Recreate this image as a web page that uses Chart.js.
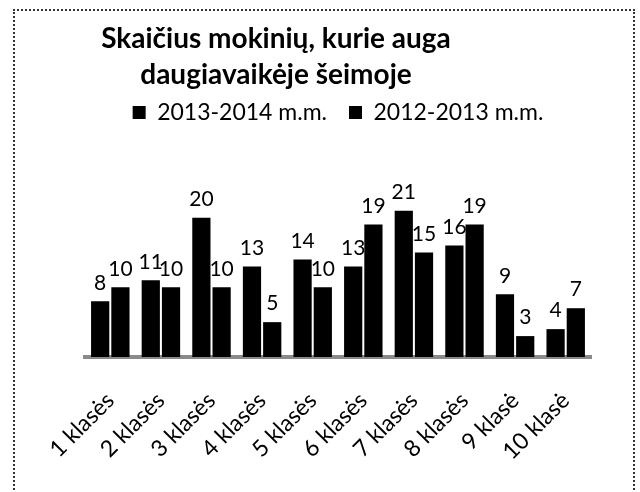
<!DOCTYPE html>
<html>
<head>
<meta charset="utf-8">
<script src="https://cdn.jsdelivr.net/npm/chart.js@4.4.1/dist/chart.umd.min.js"></script>
<style>
  html, body { margin: 0; padding: 0; background: #fff; }
  #wrap { position: relative; width: 640px; height: 492px; overflow: hidden; }
  #frame { position: absolute; left: 13px; top: 9px; width: 622px; height: 500px;
           border: 2px dotted #333; box-sizing: border-box; }
  #title { position: absolute; left: 0; top: 19px; width: 552px; text-align: center;
           font-family: Lato, "Liberation Sans", sans-serif; font-weight: bold; font-size: 28px;
           line-height: 36px; color: #000; }
  canvas { position: absolute; left: 0; top: 0; }
</style>
</head>
<body>
<div id="wrap">
  <div id="frame"></div>
  <canvas id="c" width="640" height="492"></canvas>
  <div id="title">Skaičius mokinių, kurie auga<br>daugiavaikėje šeimoje</div>
</div>
<script>
const categories = ["1 klasės", "2 klasės", "3 klasės", "4 klasės", "5 klasės",
                    "6 klasės", "7 klasės", "8 klasės", "9 klasė", "10 klasė"];
const seriesNames = ["2013-2014 m.m.", "2012-2013 m.m."];
const values2013_2014 = [8, 11, 20, 13, 14, 13, 21, 16, 9, 4];
const values2012_2013 = [10, 10, 10, 5, 10, 19, 15, 19, 3, 7];

const FONT = 'Lato, "Liberation Sans", sans-serif';

const dataLabels = {
  id: 'dataLabels',
  afterDatasetsDraw(chart) {
    const ctx = chart.ctx;
    ctx.save();
    ctx.font = '21px ' + FONT;
    ctx.fillStyle = '#000';
    ctx.textAlign = 'center';
    ctx.textBaseline = 'bottom';
    chart.data.datasets.forEach((ds, i) => {
      const meta = chart.getDatasetMeta(i);
      meta.data.forEach((el, j) => {
        ctx.fillText(String(ds.data[j]), el.x, el.y - 8);
      });
    });
    ctx.restore();
  }
};

new Chart(document.getElementById('c'), {
  type: 'bar',
  data: {
    labels: categories,
    datasets: [
      { label: seriesNames[0], data: values2013_2014, backgroundColor: '#000', borderWidth: 0 },
      { label: seriesNames[1], data: values2012_2013, backgroundColor: '#000', borderWidth: 0 }
    ]
  },
  options: {
    responsive: false,
    animation: false,
    layout: { padding: { top: 79, left: 85, right: 49, bottom: 0 } },
    plugins: {
      title: { display: false },
      tooltip: { enabled: false },
      legend: {
        display: true,
        position: 'top',
        labels: {
          color: '#000',
          font: { family: FONT, size: 23 },
          boxWidth: 13, boxHeight: 13,
          padding: 22
        }
      }
    },
    scales: {
      x: {
        grid: { display: false, drawTicks: false },
        border: { display: true, color: '#8a8a8a', width: 4, dash: [2, 1] },
        ticks: {
          color: '#000',
          font: { family: FONT, size: 23 },
          minRotation: 45, maxRotation: 45,
          padding: 30
        },
        categoryPercentage: 0.7,
        barPercentage: 1.0,
        afterFit(scale) { scale.height = 135; }
      },
      y: {
        display: false,
        min: 0,
        max: 32
      }
    }
  },
  plugins: [dataLabels]
});
</script>
</body>
</html>
